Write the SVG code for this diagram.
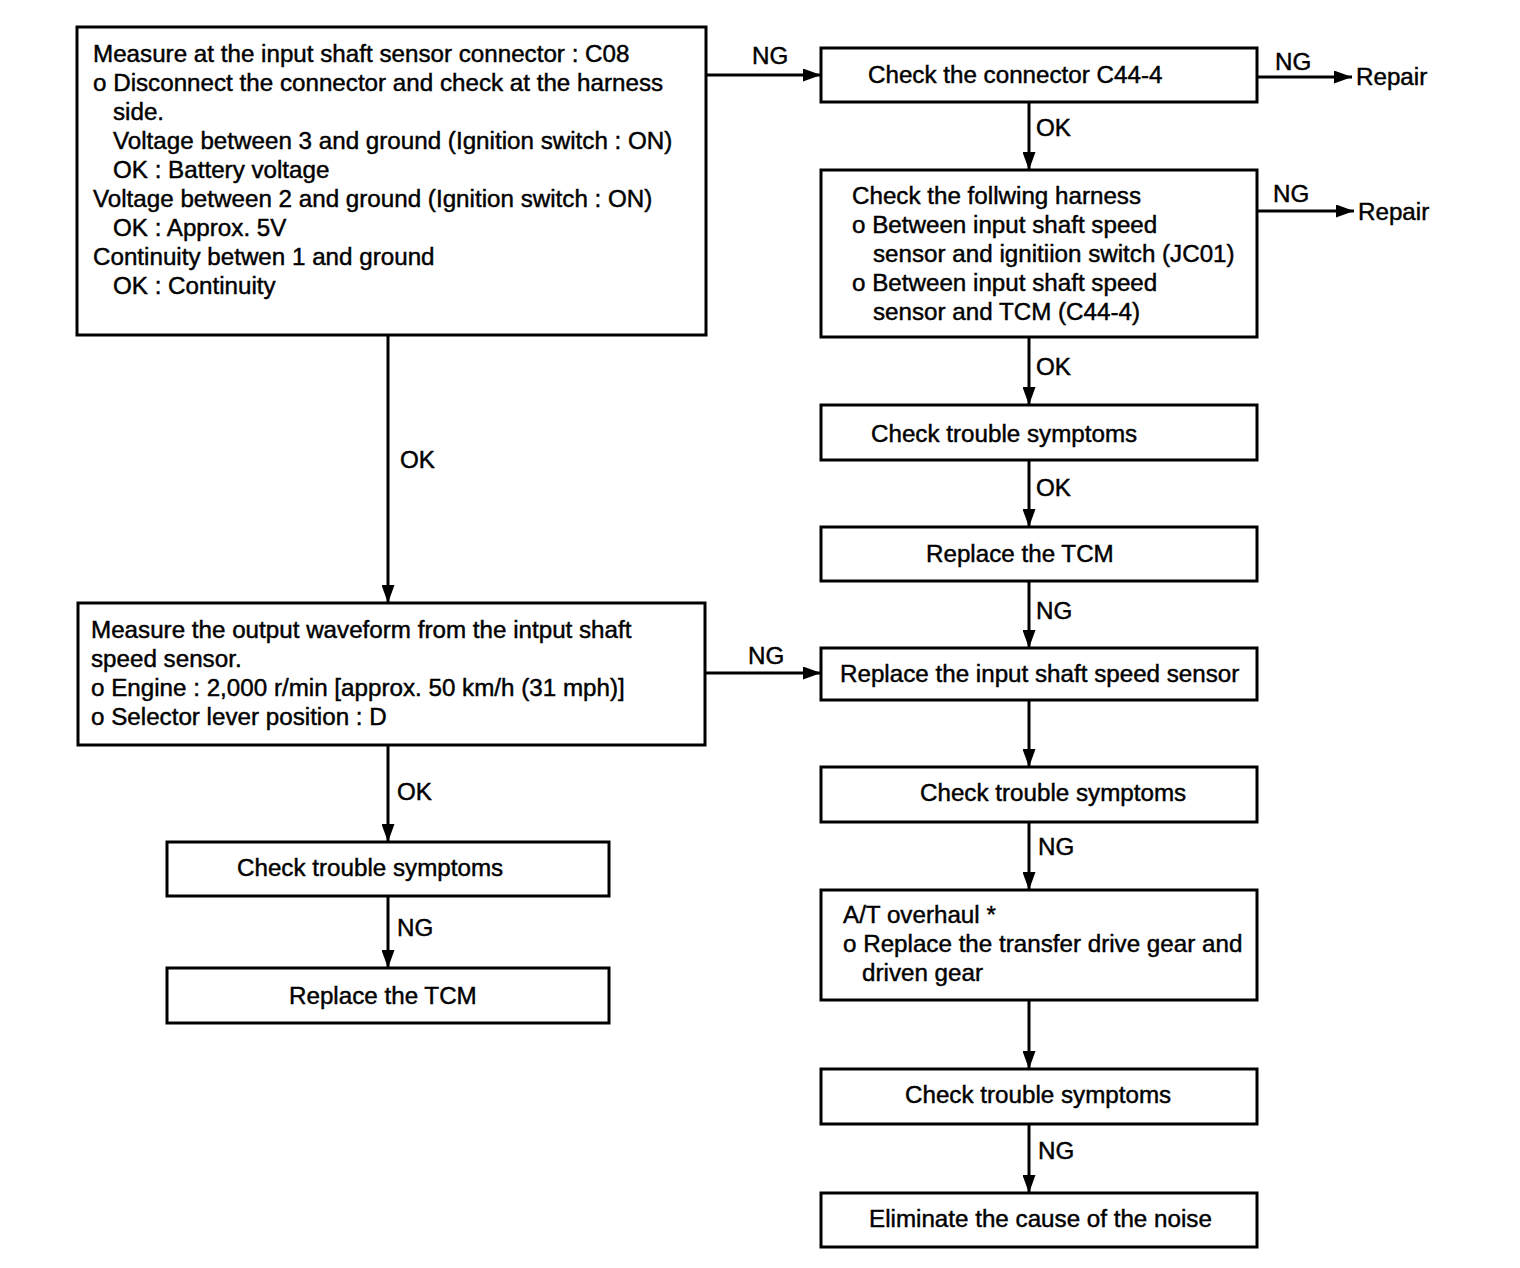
<svg xmlns="http://www.w3.org/2000/svg" width="1520" height="1268" viewBox="0 0 1520 1268">
<defs>
<marker id="ah" viewBox="0 0 18 13" refX="18" refY="6.5" markerWidth="18" markerHeight="13" markerUnits="userSpaceOnUse" orient="auto">
<path d="M0,0 L18,6.5 L0,13 Z" fill="#000"/>
</marker>
<style>
rect{fill:#fff;stroke:#000;stroke-width:3}
text{font-family:"Liberation Sans",Arial,sans-serif;font-size:24.2px;fill:#000;stroke:#000;stroke-width:0.45}
.c line{stroke:#000;stroke-width:3;marker-end:url(#ah)}
</style>
</defs>
<rect x="0" y="0" width="1520" height="1268" style="stroke:none"/>
<g class="c" id="connectors">
<line x1="706" y1="75" x2="821" y2="75"/>
<line x1="1257" y1="77" x2="1352" y2="77"/>
<line x1="1029" y1="102" x2="1029" y2="170"/>
<line x1="1257" y1="211" x2="1354" y2="211"/>
<line x1="1029" y1="337" x2="1029" y2="405"/>
<line x1="1029" y1="460" x2="1029" y2="527"/>
<line x1="1029" y1="581" x2="1029" y2="648"/>
<line x1="1029" y1="700" x2="1029" y2="767"/>
<line x1="1029" y1="822" x2="1029" y2="890"/>
<line x1="1029" y1="1000" x2="1029" y2="1069"/>
<line x1="1029" y1="1124" x2="1029" y2="1193"/>
<line x1="388" y1="335" x2="388" y2="603"/>
<line x1="705" y1="673" x2="821" y2="673"/>
<line x1="388" y1="745" x2="388" y2="842"/>
<line x1="388" y1="896" x2="388" y2="968"/>
<text x="752" y="64">NG</text>
<text x="1275" y="70">NG</text>
<text x="1356" y="85">Repair</text>
<text x="1036" y="136">OK</text>
<text x="1273" y="202">NG</text>
<text x="1358" y="220">Repair</text>
<text x="1036" y="375">OK</text>
<text x="1036" y="496">OK</text>
<text x="1036" y="619">NG</text>
<text x="1038" y="855">NG</text>
<text x="1038" y="1159">NG</text>
<text x="400" y="468">OK</text>
<text x="748" y="664">NG</text>
<text x="397" y="800">OK</text>
<text x="397" y="936">NG</text>
</g>
<g id="n1">
<rect x="77" y="27" width="629" height="308"/>
<text x="93" y="62">Measure at the input shaft sensor connector : C08</text>
<text x="93" y="91">o Disconnect the connector and check at the harness</text>
<text x="113" y="120">side.</text>
<text x="113" y="149">Voltage between 3 and ground (Ignition switch : ON)</text>
<text x="113" y="178">OK : Battery voltage</text>
<text x="93" y="207">Voltage between 2 and ground (Ignition switch : ON)</text>
<text x="113" y="236">OK : Approx. 5V</text>
<text x="93" y="265">Continuity betwen 1 and ground</text>
<text x="113" y="294">OK : Continuity</text>
</g>
<g id="n2">
<rect x="821" y="48" width="436" height="54"/>
<text x="868" y="83">Check the connector C44-4</text>
</g>
<g id="n3">
<rect x="821" y="170" width="436" height="167"/>
<text x="852" y="204">Check the follwing harness</text>
<text x="852" y="233">o Between input shaft speed</text>
<text x="873" y="262">sensor and ignitiion switch (JC01)</text>
<text x="852" y="291">o Between input shaft speed</text>
<text x="873" y="320">sensor and TCM (C44-4)</text>
</g>
<g id="n4">
<rect x="821" y="405" width="436" height="55"/>
<text x="871" y="442">Check trouble symptoms</text>
</g>
<g id="n5">
<rect x="821" y="527" width="436" height="54"/>
<text x="926" y="562">Replace the TCM</text>
</g>
<g id="n6">
<rect x="821" y="648" width="436" height="52"/>
<text x="840" y="682">Replace the input shaft speed sensor</text>
</g>
<g id="n7">
<rect x="821" y="767" width="436" height="55"/>
<text x="920" y="801">Check trouble symptoms</text>
</g>
<g id="n8">
<rect x="821" y="890" width="436" height="110"/>
<text x="843" y="923">A/T overhaul *</text>
<text x="843" y="952">o Replace the transfer drive gear and</text>
<text x="862" y="981">driven gear</text>
</g>
<g id="n9">
<rect x="821" y="1069" width="436" height="55"/>
<text x="905" y="1103">Check trouble symptoms</text>
</g>
<g id="n10">
<rect x="821" y="1193" width="436" height="54"/>
<text x="869" y="1227">Eliminate the cause of the noise</text>
</g>
<g id="n11">
<rect x="78" y="603" width="627" height="142"/>
<text x="91" y="638">Measure the output waveform from the intput shaft</text>
<text x="91" y="667">speed sensor.</text>
<text x="91" y="696">o Engine : 2,000 r/min [approx. 50 km/h (31 mph)]</text>
<text x="91" y="725">o Selector lever position : D</text>
</g>
<g id="n12">
<rect x="167" y="842" width="442" height="54"/>
<text x="237" y="876">Check trouble symptoms</text>
</g>
<g id="n13">
<rect x="167" y="968" width="442" height="55"/>
<text x="289" y="1004">Replace the TCM</text>
</g>
</svg>
